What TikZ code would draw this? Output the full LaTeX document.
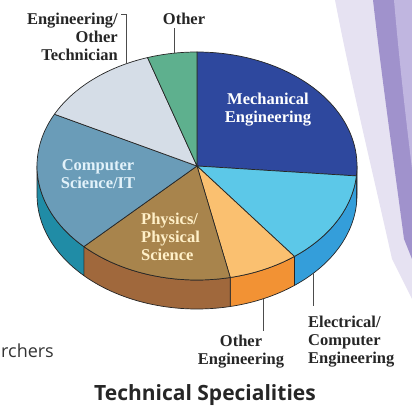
\documentclass[tikz,border=0pt]{standalone}
\usepackage{fontspec}
\newfontfamily\titlefont{Open Sans}
\newfontfamily\lblfont{Liberation Serif}
\usetikzlibrary{calc,positioning}

% Slice colours (top face / side)
\definecolor{mechtop}{RGB}{46,72,158}
\definecolor{mechside}{RGB}{36,58,135}
\definecolor{electop}{RGB}{92,200,232}
\definecolor{elecside}{RGB}{52,158,218}
\definecolor{othengtop}{RGB}{250,192,112}
\definecolor{othengside}{RGB}{242,146,52}
\definecolor{phystop}{RGB}{168,132,76}
\definecolor{physside}{RGB}{160,104,60}
\definecolor{cstop}{RGB}{106,156,184}
\definecolor{csside}{RGB}{32,140,166}
\definecolor{engtechtop}{RGB}{213,221,231}
\definecolor{othtop}{RGB}{94,176,142}
\definecolor{cslbl}{RGB}{226,242,250}
\definecolor{physlbl}{RGB}{255,240,200}
\definecolor{bandlight}{RGB}{230,226,242}
\definecolor{bandmid}{RGB}{192,182,224}
\definecolor{banddark}{RGB}{160,146,204}

\begin{document}
\begin{tikzpicture}[x=1pt,y=1pt]
    % Pie radii (pt)
    \newcommand{\rx}{160}
    \newcommand{\ry}{114}
    % Pie thickness (pt)
    \newcommand{\depth}{29}
    % Styles
    \tikzstyle{slice}=[draw=black!85, line width=0.7pt, line join=round]
    \tikzstyle{inlbl}=[font=\lblfont\bfseries\fontsize{16.5}{18}\selectfont, align=center, inner sep=0]
    \tikzstyle{outlbl}=[inlbl, text=black!85]
    \tikzstyle{leader}=[draw=black!70, line width=0.8pt]

    \useasboundingbox (0,0) rectangle (412,409);

    % Backdrop bands
    \fill[bandlight] (335,409) .. controls (350,330) and (372,240) .. (392,150)
      -- (412,110) -- (412,409) -- cycle;
    \fill[banddark] (373,409) .. controls (382,330) and (392,260) .. (404,170)
      -- (412,150) -- (412,409) -- cycle;
    \fill[bandmid] (394,409) .. controls (400,340) and (406,290) .. (412,240)
      -- (412,409) -- cycle;

    % Pie centre
    \coordinate (C) at (197,243);

    % Sides
    \foreach \s/\e/\col in {0/-5/mechside, -5/-52.5/elecside, -52.5/-78/othengside,
      -78/-135/physside, -135/-180/csside}
      {
        \filldraw[slice, fill=\col] ($(C)+(\s:\rx pt and \ry pt)$)
        arc[start angle=\s, end angle=\e, x radius=\rx pt, y radius=\ry pt]
        -- ++(0,-\depth)
        arc[start angle=\e, end angle=\s, x radius=\rx pt, y radius=\ry pt]
        -- cycle;
      }

    % Top faces
    \foreach \s/\e/\col in {90/-5/mechtop, -5/-52.5/electop, -52.5/-78/othengtop,
      -78/-135/phystop, -135/-207/cstop, -207/-252/engtechtop, -252/-270/othtop}
      {
        \filldraw[slice, fill=\col] (C) -- ($(C)+(\s:\rx pt and \ry pt)$)
        arc[start angle=\s, end angle=\e, x radius=\rx pt, y radius=\ry pt]
        -- cycle;
      }

    % Labels on the pie
    \node[inlbl, text=white] (mech-lbl) at (268,299) {Mechanical\\Engineering};
    \node[inlbl, text=cslbl] (cs-lbl) at (98,235) {Computer\\Science/IT};
    \node[inlbl, text=physlbl, align=left, anchor=west] (phys-lbl) at (141,172)
    {Physics/\\Physical\\Science};

    % Labels round the pie
    \node[outlbl, align=right, anchor=north east] (engtech-lbl) at (118,396)
    {Engineering/\\Other\\Technician};
    \node[outlbl] (othtop-lbl) at (184,390) {Other};
    \node[outlbl, anchor=north] (otheng-lbl) at (241,74) {Other\\Engineering};
    \node[outlbl, align=left, anchor=north west] (elec-lbl) at (308,93)
    {Electrical/\\Computer\\Engineering};

    % Rim points
    \coordinate (engtech-rim) at ($(C)+(116:\rx pt and \ry pt)$);
    \coordinate (othtop-rim) at ($(C)+(98:\rx pt and \ry pt)$);
    \coordinate (otheng-rim) at ($(C)+(-65.6:\rx pt and \ry pt)+(0,-\depth)$);
    \coordinate (elec-rim) at ($(C)+(-43.5:\rx pt and \ry pt)+(0,-\depth)$);

    % Leader lines
    \draw[leader] ([xshift=3pt,yshift=-1pt]engtech-lbl.north east) -| (engtech-rim);
    \draw[leader] (othtop-rim) -- ([yshift=-3pt]othtop-rim |- othtop-lbl.south);
    \draw[leader] (otheng-rim) -- ([yshift=4pt]otheng-rim |- otheng-lbl.north);
    \draw[leader] (elec-rim) -- ([yshift=10pt]elec-rim |- elec-lbl.north);

    % Bottom text
    \node[font={\titlefont\bfseries\fontsize{21}{24}\selectfont}, text=black!85]
    (title) at (205,14) {Technical Specialities};
    \node[font={\titlefont\fontsize{18}{21}\selectfont}, text=black!80, anchor=west,
      inner sep=0] (cut-txt) at (1,58) {rchers};
\end{tikzpicture}
\end{document}
